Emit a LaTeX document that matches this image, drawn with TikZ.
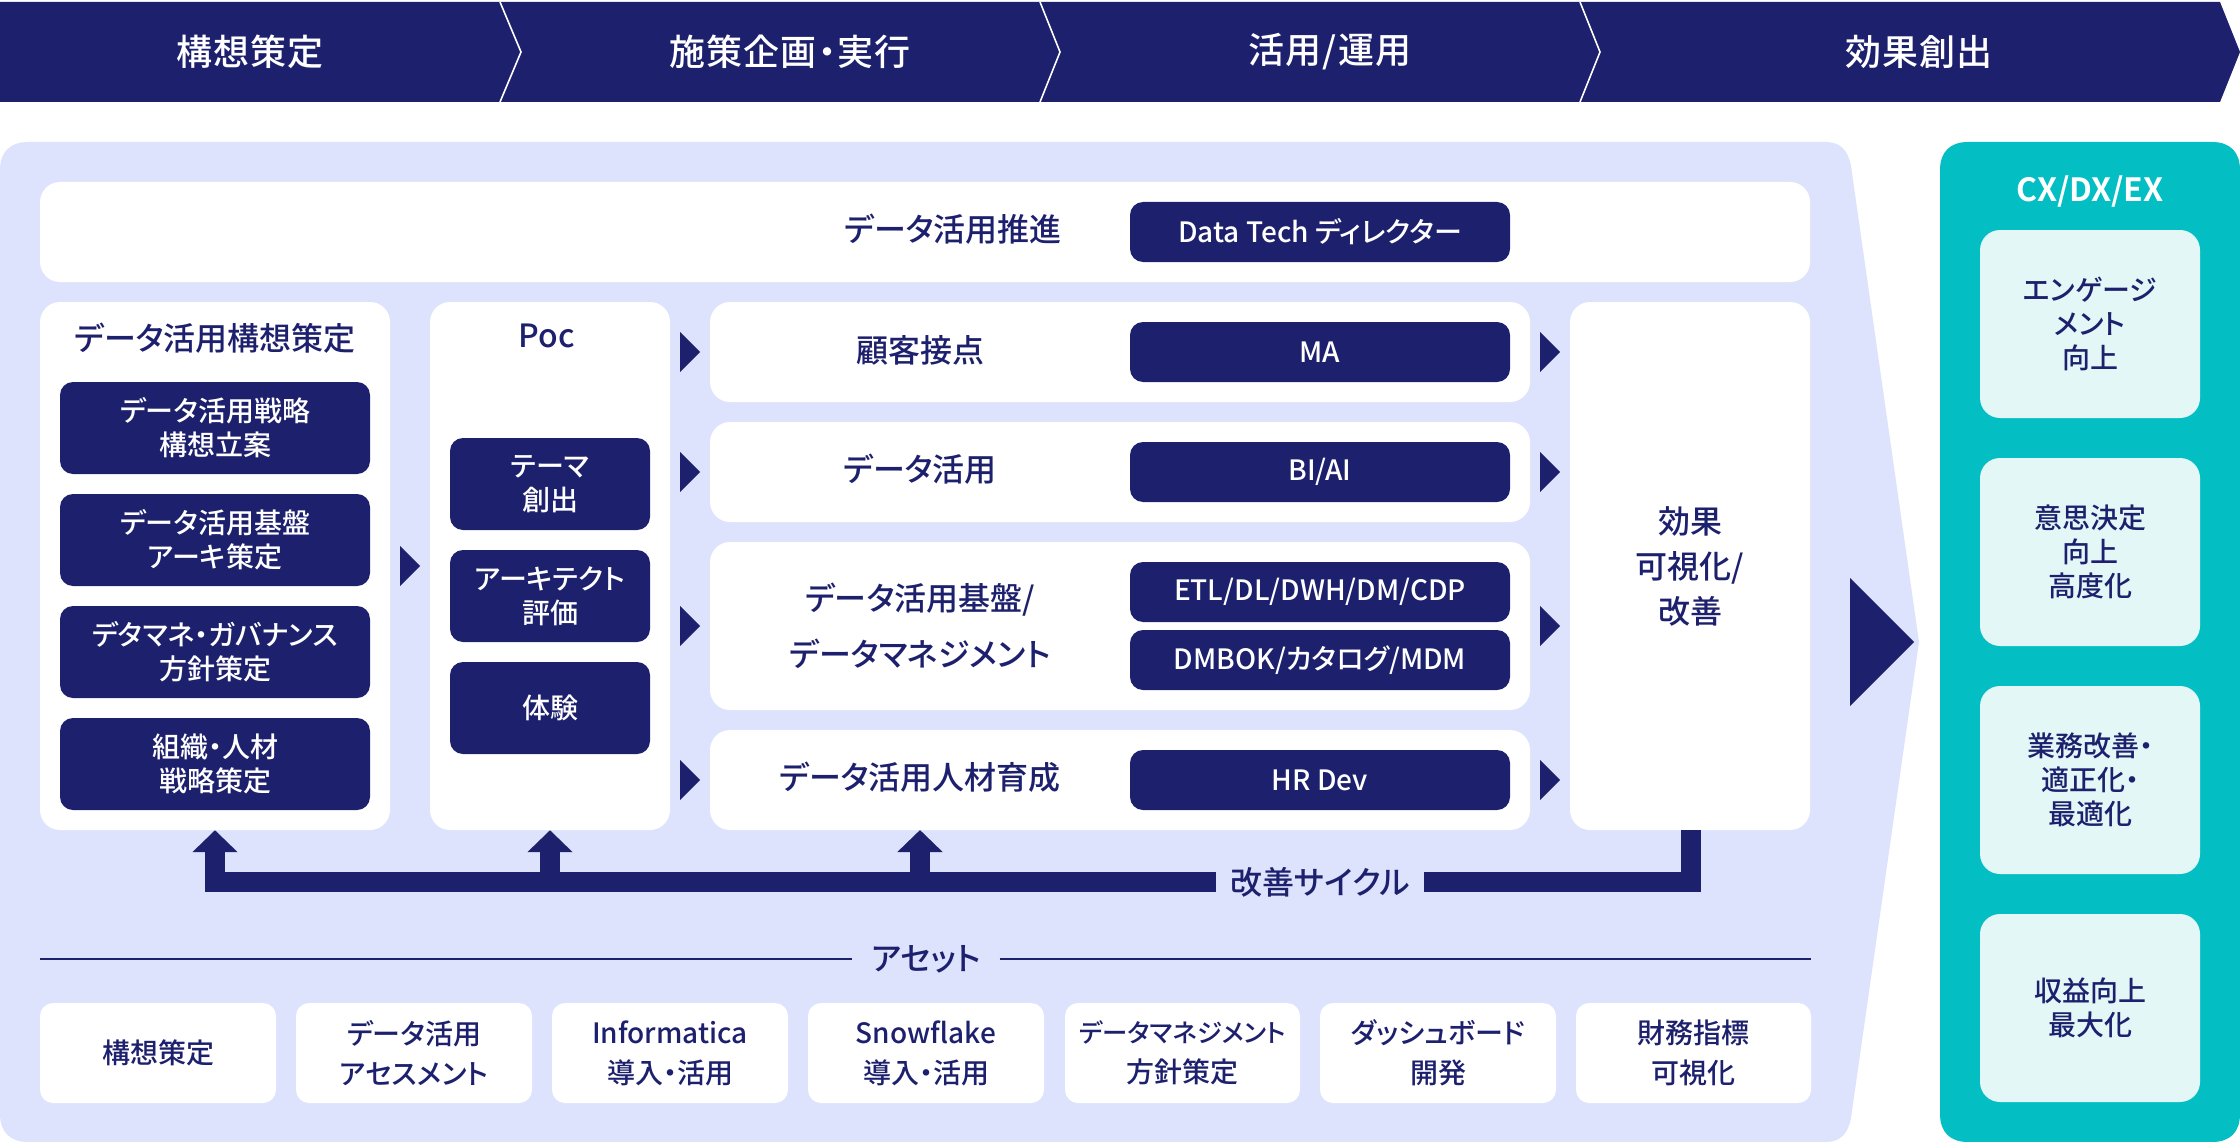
\documentclass[tikz,border=0pt]{standalone}
\usepackage{fontspec}
\setmainfont{Noto Sans CJK JP Medium}[RawFeature=+palt]
\newfontfamily\bannerfont{Noto Sans CJK JP Medium}[RawFeature=+palt,LetterSpace=3]
\newfontfamily\heavyfont{Noto Sans CJK JP Bold}[RawFeature=+palt]
\usetikzlibrary{arrows.meta}
\definecolor{navy}{HTML}{1D206D}
\definecolor{panel}{HTML}{DDE3FD}
\definecolor{teal}{HTML}{03BEC3}
\definecolor{mint}{HTML}{E3F7F7}
\tikzset{
  anytext/.style={inner sep=0pt,align=center},
  fsbanner/.style={font=\bannerfont\fontsize{36}{40}\selectfont},
  fshead/.style={font=\fontsize{32}{45}\selectfont},
  fschip/.style={font=\fontsize{28}{34}\selectfont},
  fsasset/.style={font=\fontsize{28}{40}\selectfont},
  whitebig/.style={fill=white,rounded corners=20pt},
  whitesmall/.style={fill=white,rounded corners=13pt},
  chip/.style={fill=navy,rounded corners=13pt,text=white,fschip},
  mintbox/.style={fill=mint,rounded corners=20pt,text=navy,fschip},
  feedback/.style={draw=navy,line width=20pt,line join=miter},
  feedbackup/.style={feedback,-{Triangle[length=22pt,width=44pt]}},
  rule/.style={draw=navy,line width=2.5pt},
  sep/.style={draw=white,line width=1.6pt},
}
% name, x0, y0, x1, y1, style, text
\newcommand{\bx}[7]{%
  \pgfmathsetmacro{\bxw}{#4-#2}\pgfmathsetmacro{\bxh}{#5-#3}%
  \pgfmathsetmacro{\bxcx}{(#2+#4)/2}\pgfmathsetmacro{\bxcy}{(#3+#5)/2}%
  \node[anytext,#6,minimum width=\bxw pt,minimum height=\bxh pt] (#1) at (\bxcx,\bxcy) {#7};}
% right-pointing chevron: x0, x1, ymid, half-height
\newcommand{\tri}[4]{\fill[navy] (#1,#3-#4) -- (#2,#3) -- (#1,#3+#4) -- cycle;}
\begin{document}
\begin{tikzpicture}[x=1pt,y=-1pt]
\useasboundingbox (0,0) rectangle (2240,1142);
% banner
\fill[navy] (0,2) -- (2220,2) -- (2240,52) -- (2220,102) -- (0,102) -- cycle;
\draw[sep] (500,2) -- (521,52) -- (500,102);
\draw[sep] (1040,2) -- (1060,52) -- (1040,102);
\draw[sep] (1580,2) -- (1600,52) -- (1580,102);
\node[anytext,fsbanner,text=white] (b1) at (250,52) {構想策定};
\node[anytext,fsbanner,text=white] (b2) at (790,52) {施策企画・実行};
\node[anytext,fsbanner,text=white] (b3) at (1330,52) {活用/運用};
\node[anytext,fsbanner,text=white] (b4) at (1919,52) {効果創出};
% main panel
\fill[panel] (0,170) .. controls (0,152) and (10,142) .. (28,142)
  -- (1826,142) .. controls (1840,142) and (1848,150) .. (1851,166)
  -- (1919,642)
  -- (1851,1118) .. controls (1848,1134) and (1840,1142) .. (1826,1142)
  -- (28,1142) .. controls (10,1142) and (0,1132) .. (0,1114) -- cycle;
% right panel
\fill[teal] (1968,142) -- (2212,142) .. controls (2230,142) and (2240,152) .. (2240,170)
  -- (2240,1114) .. controls (2240,1132) and (2230,1142) .. (2212,1142)
  -- (1968,1142) .. controls (1950,1142) and (1940,1132) .. (1940,1114)
  -- (1940,170) .. controls (1940,152) and (1950,142) .. (1968,142) -- cycle;
% top row
\bx{top}{40}{182}{1810}{282}{whitebig}{}
\node[anytext,fshead,text=navy] (toplabel) at (953,229) {データ活用推進};
\bx{topchip}{1130}{202}{1510}{262}{chip}{Data Tech ディレクター}
% left column
\bx{plan}{40}{302}{390}{830}{whitebig}{}
\node[anytext,fshead,text=navy] (planlabel) at (215,338) {データ活用構想策定};
\bx{p1}{60}{382}{370}{474}{chip}{データ活用戦略\\構想立案}
\bx{p2}{60}{494}{370}{586}{chip}{データ活用基盤\\アーキ策定}
\bx{p3}{60}{606}{370}{698}{chip}{デタマネ・ガバナンス\\方針策定}
\bx{p4}{60}{718}{370}{810}{chip}{組織・人材\\戦略策定}
% poc column
\bx{poc}{430}{302}{670}{830}{whitebig}{}
\node[anytext,fshead,text=navy] (poclabel) at (547,336) {Poc};
\bx{q1}{450}{438}{650}{530}{chip}{テーマ\\創出}
\bx{q2}{450}{550}{650}{642}{chip}{アーキテクト\\評価}
\bx{q3}{450}{662}{650}{754}{chip}{体験}
% middle rows
\bx{m1}{710}{302}{1530}{402}{whitebig}{}
\node[anytext,fshead,text=navy] (m1label) at (920,350) {顧客接点};
\bx{m1c}{1130}{322}{1510}{382}{chip}{MA}
\bx{m2}{710}{422}{1530}{522}{whitebig}{}
\node[anytext,fshead,text=navy] (m2label) at (920,469) {データ活用};
\bx{m2c}{1130}{442}{1510}{502}{chip}{BI/AI}
\bx{m3}{710}{542}{1530}{710}{whitebig}{}
\node[anytext,fshead,text=navy,font=\fontsize{32}{56}\selectfont] (m3label) at (920,626) {データ活用基盤/\\データマネジメント};
\bx{m3c}{1130}{562}{1510}{622}{chip}{ETL/DL/DWH/DM/CDP}
\bx{m3d}{1130}{630}{1510}{690}{chip}{DMBOK/カタログ/MDM}
\bx{m4}{710}{730}{1530}{830}{whitebig}{}
\node[anytext,fshead,text=navy] (m4label) at (920,777) {データ活用人材育成};
\bx{m4c}{1130}{750}{1510}{810}{chip}{HR Dev}
% effect column
\bx{eff}{1570}{302}{1810}{830}{whitebig,fshead,text=navy}{効果\\可視化/\\改善}
% chevrons
\tri{400}{420}{566}{20}
\tri{680}{700}{352}{20}
\tri{680}{700}{472}{20}
\tri{680}{700}{626}{20}
\tri{680}{700}{780}{20}
\tri{1540}{1560}{352}{20}
\tri{1540}{1560}{472}{20}
\tri{1540}{1560}{626}{20}
\tri{1540}{1560}{780}{20}
\fill[navy] (1850,578) -- (1914,642) -- (1850,706) -- cycle;
% feedback cycle
\node[anytext,fshead,text=navy,minimum width=208pt,minimum height=40pt] (cycle) at (1320,882) {改善サイクル};
\coordinate (fbstart) at (1691,830);
\coordinate (fbdown) at (1691,882);
\coordinate (fbleft) at (215,882);
\coordinate (fbmid) at (550,882);
\coordinate (fbm) at (920,882);
\coordinate (fbmtop) at (920,830);
\draw[feedback] (fbstart) -- (fbdown) -- (cycle.east |- fbdown);
\draw[feedbackup] (cycle.west |- fbdown) -- (fbleft) -- (plan.south);
\draw[feedbackup] (fbmid) -- (poc.south);
\draw[feedbackup] (fbm) -- (fbmtop);
% asset rule
\node[anytext,font=\fontsize{32}{36}\selectfont,text=navy,minimum width=147pt] (asset) at (926,959) {アセット};
\coordinate (rl) at (40,959);
\coordinate (rr) at (1811,959);
\draw[rule] (rl) -- (asset.west);
\draw[rule] (asset.east) -- (rr);
% assets
\bx{a1}{40}{1003}{276}{1103}{whitesmall,fsasset,text=navy}{構想策定}
\bx{a2}{296}{1003}{532}{1103}{whitesmall,fsasset,text=navy}{データ活用\\アセスメント}
\bx{a3}{552}{1003}{788}{1103}{whitesmall,fsasset,text=navy}{Informatica\\導入・活用}
\bx{a4}{808}{1003}{1044}{1103}{whitesmall,fsasset,text=navy}{Snowflake\\導入・活用}
\bx{a5}{1065}{1003}{1300}{1103}{whitesmall,fsasset,text=navy}{{\fontsize{25.4}{40}\selectfont データマネジメント}\\方針策定}
\bx{a6}{1320}{1003}{1556}{1103}{whitesmall,fsasset,text=navy}{ダッシュボード\\開発}
\bx{a7}{1576}{1003}{1811}{1103}{whitesmall,fsasset,text=navy}{財務指標\\可視化}
% right panel contents
\node[anytext,font=\heavyfont\fontsize{32}{36}\selectfont,text=white] (cx) at (2090,192) {CX/DX/EX};
\bx{r1}{1980}{230}{2200}{418}{mintbox}{エンゲージ\\メント\\向上}
\bx{r2}{1980}{458}{2200}{646}{mintbox}{意思決定\\向上\\高度化}
\bx{r3}{1980}{686}{2200}{874}{mintbox}{業務改善・\\適正化・\\最適化}
\bx{r4}{1980}{914}{2200}{1102}{mintbox}{収益向上\\最大化}
\end{tikzpicture}
\end{document}
